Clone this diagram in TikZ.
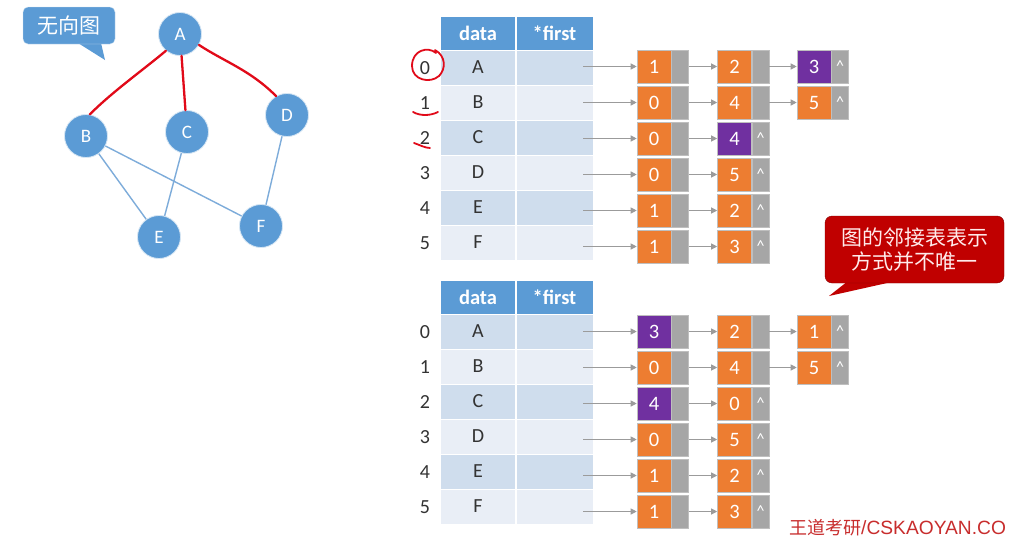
\documentclass[tikz,border=0pt]{standalone}
\usepackage{fontspec}
\setmainfont{Carlito}
\newfontfamily\cjk{Noto Sans CJK SC}
\newfontfamily\arialfont{Liberation Sans}
\usetikzlibrary{positioning, arrows.meta}
\definecolor{vblue}{RGB}{91,155,213}
\definecolor{edgeblue}{RGB}{125,172,218}
\definecolor{rowdark}{RGB}{207,221,237}
\definecolor{rowlight}{RGB}{233,238,246}
\definecolor{listorange}{RGB}{237,125,49}
\definecolor{listpurple}{RGB}{112,48,160}
\definecolor{listgrey}{RGB}{166,166,166}
\definecolor{arrowgrey}{RGB}{155,155,155}
\definecolor{notered}{RGB}{192,0,0}
\definecolor{inkred}{RGB}{225,10,25}
\definecolor{markred}{RGB}{200,45,45}

\newcommand{\nil}{\textasciicircum}

\tikzset{
  vertex/.style={circle, fill=vblue, draw=white!75!vblue, line width=0.8pt,
    minimum size=43pt, inner sep=0pt, text=white, font=\fontsize{19}{19}\selectfont},
  graphedge/.style={draw=edgeblue, line width=1.4pt},
  markedge/.style={draw=inkred, line width=2.3pt, line cap=round},
  headcell/.style={fill=vblue, draw=white, line width=1pt, minimum height=34pt,
    inner sep=0pt, text=white, font=\bfseries\fontsize{20.5}{20.5}\selectfont},
  bodycell/.style={draw=white, line width=1pt, minimum height=35pt, inner sep=0pt,
    text=black!80, font=\fontsize{20}{20}\selectfont},
  idx/.style={text=black!80, font=\fontsize{20}{20}\selectfont},
  elem/.style={draw=black!25, line width=0.6pt, minimum width=34pt, minimum height=33pt,
    inner sep=0pt, text=white, font=\fontsize{20.5}{20.5}\selectfont},
  ptr/.style={fill=listgrey, draw=black!25, line width=0.6pt, minimum width=17pt,
    minimum height=33pt, inner sep=0pt, text=white, font=\fontsize{16}{16}\selectfont},
  link/.style={draw=arrowgrey, line width=1.1pt, -{Triangle[length=6pt, width=6pt]}},
  ink/.style={draw=inkred, line width=1.8pt, line cap=round},
}

\begin{document}
\begin{tikzpicture}[x=1pt, y=-1pt]
    \useasboundingbox[fill=white] (0,0) rectangle (1011,541);

    % note: undirected graph
    \fill[vblue] (78,43) -- (105,60) -- (101,43) -- cycle;
    \node[fill=vblue, draw=white!70!vblue, rounded corners=5pt, minimum width=92pt,
      minimum height=37pt, text=white, font=\cjk\fontsize{21}{21}\selectfont]
      (undir) at (69,25.5) {无向图};

    % graph vertices
    \node[vertex] (A) at (180,34) {A};
    \node[vertex] (B) at (86,136) {B};
    \node[vertex] (C) at (187,132) {C};
    \node[vertex] (D) at (287,115) {D};
    \node[vertex] (E) at (159,237) {E};
    \node[vertex] (F) at (261,226) {F};

    % graph edges
    \draw[graphedge] (B) -- (E);
    \draw[graphedge] (B) -- (F);
    \draw[graphedge] (C) -- (E);
    \draw[graphedge] (D) -- (F);
    \draw[markedge] (A.-130) .. controls (143,70) and (112,92) .. (B.80);
    \draw[markedge] (A) -- (C);
    \draw[markedge] (A.-30) .. controls (225,62) and (250,70) .. (D.120);

    % both vertex tables
    \foreach \t/\top in {u/16, l/280}{
      \node[headcell, minimum width=75pt] (\t-hd) at (478,{\top+17}) {data};
      \node[headcell, minimum width=77pt] (\t-hf) at (554.5,{\top+17}) {*first};
      \foreach \v/\c [count=\i from 0] in {A/rowdark, B/rowlight, C/rowdark,
          D/rowlight, E/rowdark, F/rowlight}{
        \node[bodycell, fill=\c, minimum width=75pt] (\t-d\i) at (478,{\top+51.5+35*\i}) {\v};
        \node[bodycell, fill=\c, minimum width=77pt] (\t-f\i) at (554.5,{\top+51.5+35*\i}) {};
        \node[idx] (\t-i\i) at (425,{\top+52.5+35*\i}) {\i};
      }
    }

    % upper adjacency lists
    \foreach \r/\a/\ca/\b/\cb/\bp in {0/1/listorange/2/listorange/{},
        1/0/listorange/4/listorange/{}, 2/0/listorange/4/listpurple/\nil,
        3/0/listorange/5/listorange/\nil, 4/1/listorange/2/listorange/\nil,
        5/1/listorange/3/listorange/\nil}{
      \coordinate (u-s\r) at (583,{66.5+36*\r});
      \node[elem, fill=\ca] (u-a\r) at (654,{66.5+36*\r}) {\a};
      \node[ptr, right=0pt of u-a\r] (u-pa\r) {};
      \node[elem, fill=\cb] (u-b\r) at (734.5,{66.5+36*\r}) {\b};
      \node[ptr, right=0pt of u-b\r] (u-pb\r) {\bp};
      \draw[link] (u-s\r) -- (u-a\r);
      \draw[link] (u-pa\r) -- (u-b\r);
    }
    \node[elem, fill=listpurple] (u-c0) at (814,66.5) {3};
    \node[ptr, right=0pt of u-c0] (u-pc0) {\nil};
    \node[elem, fill=listorange] (u-c1) at (814,102.5) {5};
    \node[ptr, right=0pt of u-c1] (u-pc1) {\nil};
    \draw[link] (u-pb0) -- (u-c0);
    \draw[link] (u-pb1) -- (u-c1);

    % lower adjacency lists
    \foreach \r/\a/\ca/\b/\cb/\bp in {0/3/listpurple/2/listorange/{},
        1/0/listorange/4/listorange/{}, 2/4/listpurple/0/listorange/\nil,
        3/0/listorange/5/listorange/\nil, 4/1/listorange/2/listorange/\nil,
        5/1/listorange/3/listorange/\nil}{
      \coordinate (l-s\r) at (583,{331.5+36*\r});
      \node[elem, fill=\ca] (l-a\r) at (654,{331.5+36*\r}) {\a};
      \node[ptr, right=0pt of l-a\r] (l-pa\r) {};
      \node[elem, fill=\cb] (l-b\r) at (734.5,{331.5+36*\r}) {\b};
      \node[ptr, right=0pt of l-b\r] (l-pb\r) {\bp};
      \draw[link] (l-s\r) -- (l-a\r);
      \draw[link] (l-pa\r) -- (l-b\r);
    }
    \node[elem, fill=listorange] (l-c0) at (814,331.5) {1};
    \node[ptr, right=0pt of l-c0] (l-pc0) {\nil};
    \node[elem, fill=listorange] (l-c1) at (814,367.5) {5};
    \node[ptr, right=0pt of l-c1] (l-pc1) {\nil};
    \draw[link] (l-pb0) -- (l-c0);
    \draw[link] (l-pb1) -- (l-c1);

    % hand marks on the indices
    \draw[ink] (436,53) .. controls (428,46) and (412,50) .. (412,66)
      .. controls (412,80) and (430,84) .. (439,76)
      .. controls (446,69) and (446,56) .. (435,50);
    \draw[ink] (413,112) .. controls (420,116) and (430,116) .. (438,112);
    \draw[ink] (414,143) .. controls (420,145) and (425,148) .. (430,148);

    % note: not unique
    \fill[notered] (848,281) -- (829,296) -- (896,281) -- cycle;
    \node[fill=notered, draw=notered!70!black, rounded corners=7pt, minimum width=179pt,
      minimum height=67pt, align=center, text=red!8, font=\cjk\fontsize{21}{24}\selectfont]
      (note) at (914.5,249.5) {图的邻接表表示\\方式并不唯一};

    % watermark
    \node[anchor=west, inner sep=0pt, text=markred, font=\cjk\fontsize{18}{18}\selectfont]
      (mark) at (789,528) {王道考研\arialfont\fontsize{19.2}{19.2}\selectfont/CSKAOYAN.CO};
\end{tikzpicture}
\end{document}
